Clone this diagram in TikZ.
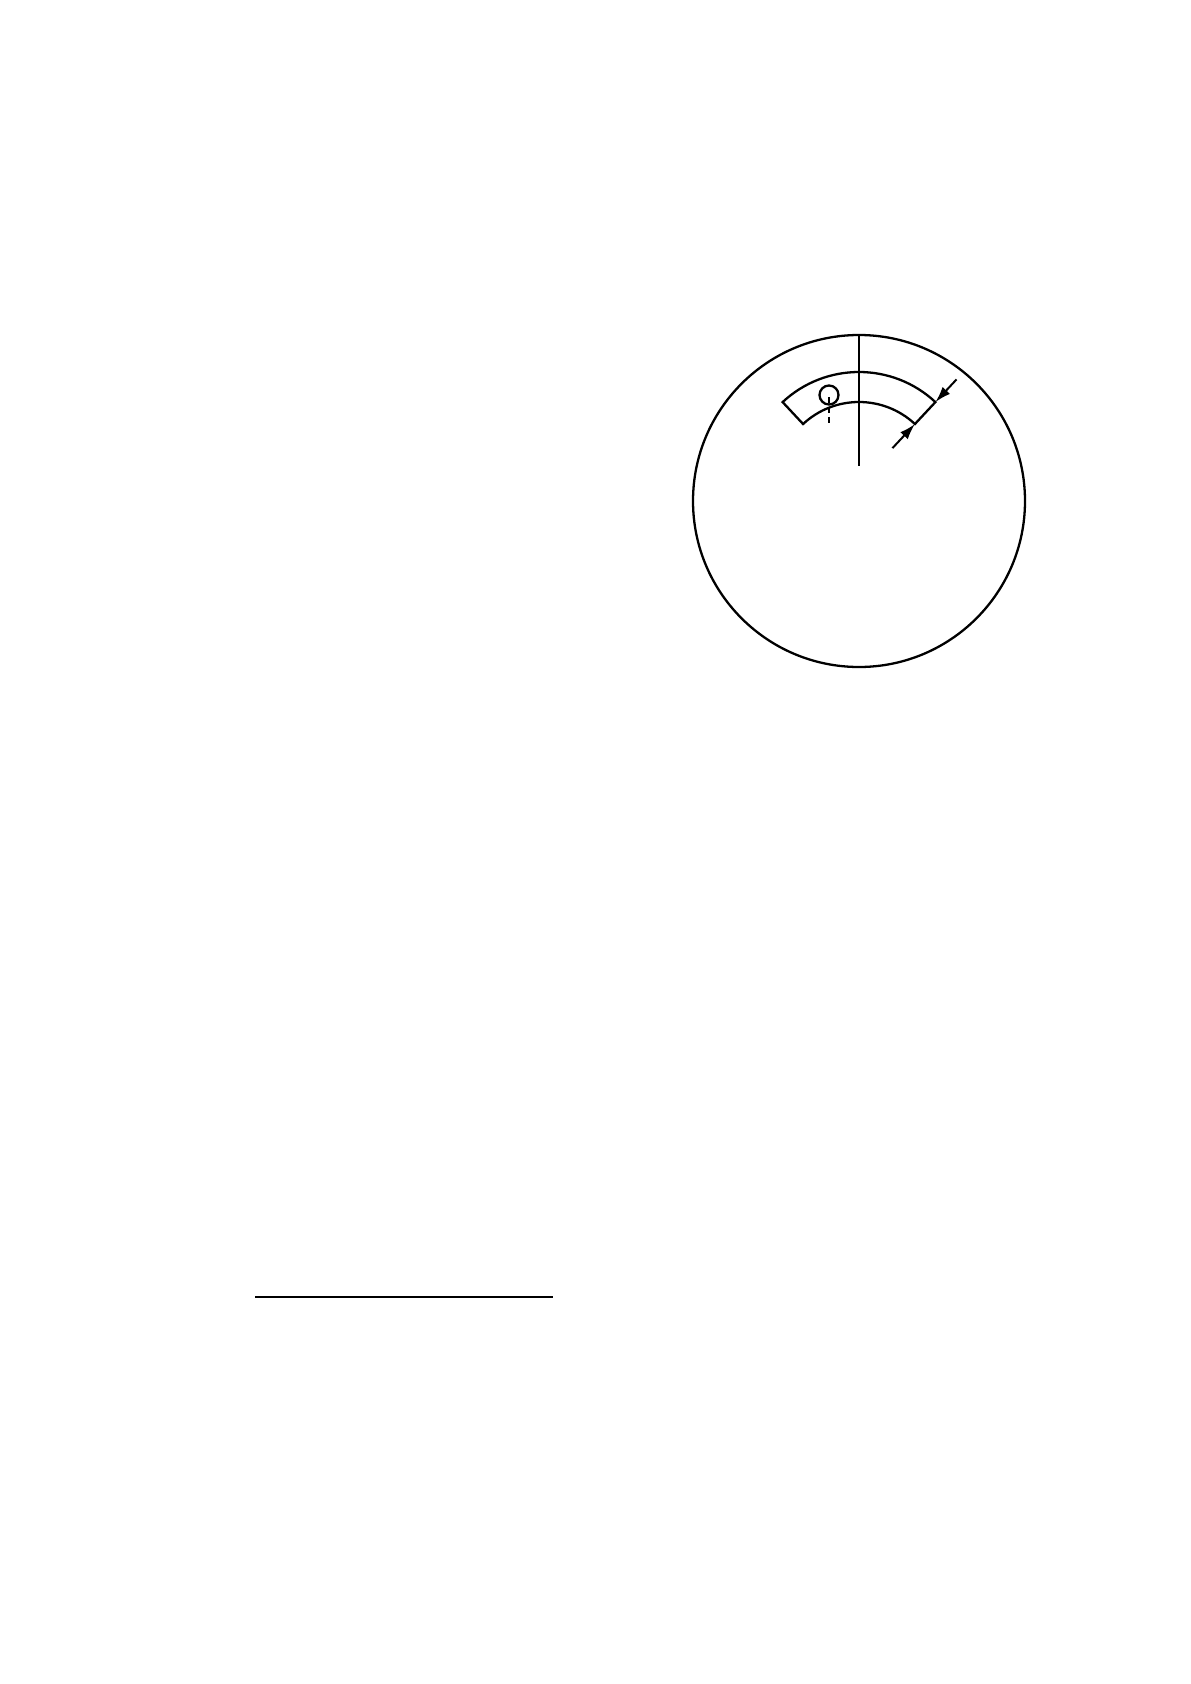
\documentclass[tikz,border=0pt]{standalone}
\usepackage{tikz}
\usetikzlibrary{arrows.meta}
\tikzset{
  % outline of the scope and sector
  scope line/.style = {
    line width=1.15pt,
    draw=black,
  },
  % dashed mark below the target
  target mark/.style = {
    line width=1pt,
    dash pattern=on 3pt off 2pt,
  },
  % dimension arrows
  dim arrow/.style = {
    line width=1pt,
    -{Latex[length=2.8mm,width=1.8mm]},
  },
}

\begin{document}
\begin{tikzpicture}[x=0.17647mm,y=-0.17647mm]
      \useasboundingbox (0,0) rectangle (1190,1684);
      % scope
      \coordinate (ctr) at (859,501);
      \draw[scope line] (ctr) circle[radius=166];
      \draw[scope line] (859,335)--(859,466);
      % sector (y runs downwards, so the angles are negative)
      \coordinate (sc) at (859,484);
      \draw[scope line] ([shift={(-47:112)}]sc) arc[start angle=-47,end angle=-133,radius=112]
        -- ([shift={(-133:82)}]sc) arc[start angle=-133,end angle=-47,radius=82] -- cycle;
      % target
      \draw[scope line] (829,395) circle[radius=9.5];
      \draw[target mark] (829,397)--(829,424);
      % width of the sector
      \coordinate (outer) at ([shift={(-47:112)}]sc);
      \coordinate (inner) at ([shift={(-47:82)}]sc);
      \draw[dim arrow] ([shift={(-47:143)}]sc) -- (outer);
      \draw[dim arrow] ([shift={(-47:49)}]sc) -- (inner);
      % rule
      \draw[line width=1pt] (255,1297)--(553,1297);
\end{tikzpicture}
\end{document}
